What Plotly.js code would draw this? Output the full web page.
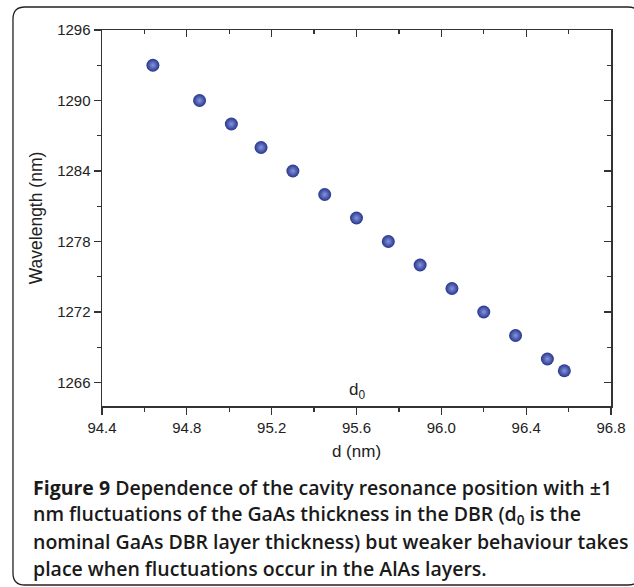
<!DOCTYPE html>
<html>
<head>
<meta charset="utf-8">
<script src="https://cdn.plot.ly/plotly-3.0.1.min.js"></script>
<style>
html,body{margin:0;padding:0;background:#fff;}
#chart{width:634px;height:587px;}
</style>
</head>
<body>
<div id="chart"></div>
<script>
// ---- data ----
const thickness = [94.64, 94.86, 95.01, 95.15, 95.30, 95.45, 95.60, 95.75, 95.90, 96.05, 96.20, 96.35, 96.50, 96.58];
const wavelength = [1293, 1290, 1288, 1286, 1284, 1282, 1280, 1278, 1276, 1274, 1272, 1270, 1268, 1267];
const xTicks = [94.4, 94.8, 95.2, 95.6, 96.0, 96.4, 96.8];
const xTickLabels = ['94.4', '94.8', '95.2', '95.6', '96.0', '96.4', '96.8'];
const yTicks = [1266, 1272, 1278, 1284, 1290, 1296];
const nominalLabel = {x: 95.6, y: 1265.3, text: 'd<sub>0</sub>'};
const xTitle = 'd (nm)';
const yTitle = 'Wavelength (nm)';
const captionLines = [
  '<b>Figure 9</b> Dependence of the cavity resonance position with ±1',
  'nm fluctuations of the GaAs thickness in the DBR (d<sub>0</sub> is the',
  'nominal GaAs DBR layer thickness) but weaker behaviour takes',
  'place when fluctuations occur in the AlAs layers.'
];

// ---- layout geometry (pixels) ----
const W = 634, H = 587;
const L = 102, R = 611, T = 30, B = 406;
const px = v => (v - L) / (R - L);
const py = v => (B - v) / (B - T);

// rounded frame path in paper coords
function framePath(x0, y0, x1, y1, r) {
  const P = (x, y) => px(x).toFixed(4) + ',' + py(y).toFixed(4);
  return 'M' + P(x0 + r, y0) + ' L' + P(x1 - r, y0) + ' Q' + P(x1, y0) + ' ' + P(x1, y0 + r) +
    ' L' + P(x1, y1 - r) + ' Q' + P(x1, y1) + ' ' + P(x1 - r, y1) +
    ' L' + P(x0 + r, y1) + ' Q' + P(x0, y1) + ' ' + P(x0, y1 - r) +
    ' L' + P(x0, y0 + r) + ' Q' + P(x0, y0) + ' ' + P(x0 + r, y0) + ' Z';
}

const sans = 'Liberation Sans, Arial, sans-serif';
const axisFont = {family: sans, size: 15, color: '#222'};
const lineCol = '#333';

const trace = {
  x: thickness, y: wavelength, type: 'scatter', mode: 'markers',
  marker: {size: 13, color: '#26358c', line: {width: 0},
           gradient: {type: 'radial', color: '#8595dd'}},
  hoverinfo: 'x+y', showlegend: false
};

const annotations = [
  {x: nominalLabel.x, y: nominalLabel.y, xref: 'x', yref: 'y', text: nominalLabel.text,
   showarrow: false, font: {family: sans, size: 17, color: '#222'}}
];
captionLines.forEach((t, i) => {
  annotations.push({
    x: px(31), y: py(487 + i * 27), xref: 'paper', yref: 'paper', xanchor: 'left', yanchor: 'middle',
    text: t, showarrow: false, align: 'left',
    font: {family: 'Open Sans, Noto Sans, sans-serif', size: 19.5, color: '#1a1a1a', weight: 600}
  });
});

const layout = {
  width: W, height: H,
  margin: {l: L, r: W - R, t: T, b: H - B},
  paper_bgcolor: '#fff', plot_bgcolor: '#fff',
  xaxis: {
    range: [94.4, 96.8], tickmode: 'array', tickvals: xTicks, ticktext: xTickLabels,
    ticks: 'outside', ticklen: 7, tickwidth: 1.3, tickcolor: lineCol,
    minor: {dtick: 0.2, tick0: 94.4, ticks: 'outside', ticklen: 4, tickwidth: 1.3, tickcolor: lineCol, showgrid: false},
    showline: true, linecolor: lineCol, linewidth: 1.5, showgrid: false, zeroline: false,
    tickfont: axisFont,
    title: {text: xTitle, font: {family: sans, size: 17, color: '#222'}, standoff: 10}
  },
  yaxis: {
    range: [1264, 1296], tickmode: 'array', tickvals: yTicks,
    ticks: 'outside', ticklen: 7, tickwidth: 1.3, tickcolor: lineCol,
    minor: {dtick: 3, tick0: 1266, ticks: 'outside', ticklen: 4, tickwidth: 1.3, tickcolor: lineCol, showgrid: false},
    showline: true, linecolor: lineCol, linewidth: 1.5, showgrid: false, zeroline: false,
    tickfont: axisFont,
    title: {text: yTitle, font: {family: sans, size: 17.5, color: '#222'}, standoff: 10}
  },
  xaxis2: {
    overlaying: 'x', side: 'top', matches: 'x', range: [94.4, 96.8], tickmode: 'array', tickvals: xTicks,
    showticklabels: false, ticks: 'inside', ticklen: 7, tickwidth: 1.3, tickcolor: lineCol,
    minor: {dtick: 0.2, tick0: 94.4, ticks: 'inside', ticklen: 4, tickwidth: 1.3, tickcolor: lineCol, showgrid: false},
    showline: true, linecolor: lineCol, linewidth: 1.5, showgrid: false, zeroline: false
  },
  yaxis2: {
    overlaying: 'y', side: 'right', matches: 'y', range: [1264, 1296], tickmode: 'array', tickvals: yTicks,
    showticklabels: false, ticks: 'inside', ticklen: 7, tickwidth: 1.3, tickcolor: lineCol,
    minor: {dtick: 3, tick0: 1266, ticks: 'inside', ticklen: 4, tickwidth: 1.3, tickcolor: lineCol, showgrid: false},
    showline: true, linecolor: lineCol, linewidth: 1.5, showgrid: false, zeroline: false
  },
  shapes: [
    {type: 'path', xref: 'paper', yref: 'paper', path: framePath(13, 7, 640, 585, 12),
     line: {color: '#222', width: 1.3}, fillcolor: 'rgba(0,0,0,0)', layer: 'below'}
  ],
  annotations: annotations
};

const dummy = {x: [94.4], y: [1264], xaxis: 'x2', yaxis: 'y2', type: 'scatter', mode: 'markers',
  marker: {opacity: 0}, hoverinfo: 'skip', showlegend: false};

Plotly.newPlot('chart', [dummy, trace], layout, {displayModeBar: false, staticPlot: true});
</script>
</body>
</html>
